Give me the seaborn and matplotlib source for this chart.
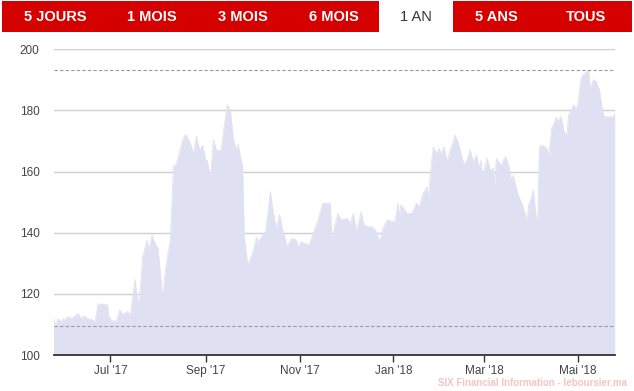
import matplotlib
matplotlib.use("Agg")
import matplotlib.pyplot as plt
import matplotlib.patches as mpatches
import pandas as pd
import seaborn as sns

# ---------------- data ----------------
dates = [
    "2017-05-25", "2017-05-26", "2017-05-28", "2017-05-30", "2017-05-31", "2017-06-02",
    "2017-06-03", "2017-06-06", "2017-06-10", "2017-06-12", "2017-06-14", "2017-06-16",
    "2017-06-19", "2017-06-21", "2017-06-23", "2017-06-29", "2017-06-30", "2017-07-02",
    "2017-07-05", "2017-07-07", "2017-07-09", "2017-07-12", "2017-07-14", "2017-07-17",
    "2017-07-19", "2017-07-20", "2017-07-22", "2017-07-25", "2017-07-26", "2017-07-28",
    "2017-07-30", "2017-08-01", "2017-08-04", "2017-08-05", "2017-08-07", "2017-08-09",
    "2017-08-11", "2017-08-13", "2017-08-17", "2017-08-19", "2017-08-22", "2017-08-24",
    "2017-08-26", "2017-08-28", "2017-08-30", "2017-09-01", "2017-09-02", "2017-09-04",
    "2017-09-06", "2017-09-08", "2017-09-11", "2017-09-13", "2017-09-15", "2017-09-17",
    "2017-09-19", "2017-09-21", "2017-09-22", "2017-09-24", "2017-09-25", "2017-09-26",
    "2017-09-28", "2017-09-29", "2017-10-02", "2017-10-04", "2017-10-05", "2017-10-08",
    "2017-10-10", "2017-10-13", "2017-10-15", "2017-10-17", "2017-10-19", "2017-10-21",
    "2017-10-24", "2017-10-27", "2017-10-30", "2017-10-31", "2017-11-02", "2017-11-05",
    "2017-11-07", "2017-11-10", "2017-11-13", "2017-11-16", "2017-11-21", "2017-11-22",
    "2017-11-24", "2017-11-26", "2017-11-28", "2017-12-02", "2017-12-04", "2017-12-06",
    "2017-12-08", "2017-12-11", "2017-12-13", "2017-12-15", "2017-12-18", "2017-12-21",
    "2017-12-23", "2017-12-25", "2017-12-28", "2017-12-31", "2018-01-02", "2018-01-04",
    "2018-01-05", "2018-01-06", "2018-01-10", "2018-01-13", "2018-01-16", "2018-01-18",
    "2018-01-20", "2018-01-23", "2018-01-24", "2018-01-25", "2018-01-27", "2018-01-29",
    "2018-01-31", "2018-02-01", "2018-02-03", "2018-02-05", "2018-02-07", "2018-02-09",
    "2018-02-10", "2018-02-12", "2018-02-14", "2018-02-16", "2018-02-18", "2018-02-20",
    "2018-02-22", "2018-02-24", "2018-02-26", "2018-02-27", "2018-02-28", "2018-03-03",
    "2018-03-05", "2018-03-07", "2018-03-08", "2018-03-09", "2018-03-12", "2018-03-15",
    "2018-03-17", "2018-03-19", "2018-03-20", "2018-03-22", "2018-03-24", "2018-03-26",
    "2018-03-29", "2018-03-30", "2018-04-01", "2018-04-02", "2018-04-04", "2018-04-05",
    "2018-04-06", "2018-04-08", "2018-04-11", "2018-04-12", "2018-04-14", "2018-04-16",
    "2018-04-17", "2018-04-18", "2018-04-20", "2018-04-22", "2018-04-24", "2018-04-25",
    "2018-04-27", "2018-04-28", "2018-04-30", "2018-05-01", "2018-05-03", "2018-05-04",
    "2018-05-07", "2018-05-08", "2018-05-09", "2018-05-11", "2018-05-13", "2018-05-15",
    "2018-05-17", "2018-05-18", "2018-05-24", "2018-05-25",
]
prices = [
    112.5, 109.7, 111.9, 110.8, 111.9, 111.5,
    112.5, 112.0, 113.6, 112.0, 112.8, 111.9,
    111.6, 110.9, 116.7, 116.4, 112.5, 111.2,
    111.0, 114.7, 113.3, 114.2, 113.0, 124.6,
    116.8, 118.5, 132.2, 137.6, 134.0, 139.3,
    136.5, 135.0, 118.0, 124.5, 132.0, 137.6,
    161.6, 162.6, 170.3, 172.2, 169.2, 166.0,
    171.5, 167.0, 168.6, 163.7, 163.6, 157.5,
    170.5, 166.9, 166.9, 174.7, 181.8, 180.2,
    170.3, 167.0, 169.0, 163.7, 161.5, 138.7,
    130.5, 130.0, 134.3, 138.6, 137.0, 139.3,
    140.4, 153.4, 146.3, 141.4, 145.8, 141.0,
    135.4, 138.2, 137.6, 135.4, 137.0, 136.4,
    135.9, 139.8, 144.2, 149.6, 149.6, 137.6,
    142.5, 146.3, 144.2, 144.7, 143.0, 146.3,
    140.4, 146.8, 142.5, 142.0, 141.9, 140.4,
    137.0, 141.0, 144.2, 143.7, 143.7, 149.6,
    145.8, 149.1, 146.3, 146.3, 149.6, 148.5,
    152.4, 155.1, 151.3, 159.0, 168.1, 165.9,
    167.6, 165.5, 168.1, 163.2, 167.0, 169.8,
    172.0, 169.8, 166.0, 162.1, 164.0, 167.0,
    163.2, 165.4, 161.0, 163.7, 158.5, 164.3,
    160.5, 161.0, 155.6, 164.3, 162.1, 164.9,
    162.1, 156.7, 158.8, 154.5, 151.3, 149.0,
    144.1, 149.0, 151.8, 154.0, 144.7, 145.2,
    168.1, 168.6, 167.6, 164.9, 174.1, 176.3,
    177.9, 176.3, 178.0, 173.1, 172.0, 178.5,
    180.1, 181.8, 180.7, 182.0, 190.0, 191.6,
    192.7, 193.0, 187.3, 190.0, 189.5, 186.8,
    180.0, 177.9, 177.9, 179.0,
]
year_high = 193.2
year_low = 109.5
y_ticks = [100, 120, 140, 160, 180, 200]
x_tick_dates = ["2017-07-01", "2017-09-01", "2017-11-01", "2018-01-01", "2018-03-01", "2018-05-01"]
x_tick_labels = ["Jul '17", "Sep '17", "Nov '17", "Jan '18", "Mar '18", "Mai '18"]
tabs = ["5 JOURS", "1 MOIS", "3 MOIS", "6 MOIS", "1 AN", "5 ANS", "TOUS"]
active_tab = "1 AN"
source_text = "SIX Financial Information - leboursier.ma"

df = pd.DataFrame({"date": pd.to_datetime(dates), "price": prices})

# ---------------- figure ----------------
sns.set_theme(style="white")
plt.rcParams["font.family"] = ["Liberation Sans", "DejaVu Sans"]

W, H = 634, 391
fig = plt.figure(figsize=(W / 100, H / 100), dpi=100)
fig.patch.set_facecolor("white")

# tab bar (pixel coordinate overlay)
tab_ax = fig.add_axes([0, 0, 1, 1])
tab_ax.set_xlim(0, W)
tab_ax.set_ylim(H, 0)
tab_ax.axis("off")
tab_ax.patch.set_alpha(0)
red = "#d50000"
tab_ax.add_patch(mpatches.Rectangle((2, 1), 377, 31, facecolor=red, edgecolor="none"))
tab_ax.add_patch(mpatches.Rectangle((453, 1), 179, 31, facecolor=red, edgecolor="none"))
tab_centers = [55, 152, 243, 334, 416, 496, 586]
for name, cx in zip(tabs, tab_centers):
    if name == active_tab:
        tab_ax.text(cx, 17, name, ha="center", va="center", fontsize=10.5,
                    color="#333333")
    else:
        tab_ax.text(cx, 17, name, ha="center", va="center", fontsize=10.5,
                    color="white", fontweight="bold")
tab_ax.text(532, 383.5, source_text, ha="center", va="center", fontsize=7,
            color="#f5c4c4", fontweight="bold")

# main chart
ax = fig.add_axes([53.5 / W, 1 - 355 / H, (614.7 - 53.5) / W, (355 - 49.3) / H])
ax.set_facecolor("none")
sns.lineplot(data=df, x="date", y="price", ax=ax, color="#e0e0f3", linewidth=0.6)
ax.fill_between(df["date"], df["price"], 100, color="#e0e0f3", linewidth=0, zorder=1)

ax.set_xlim(pd.Timestamp("2017-05-25"), pd.Timestamp("2018-05-25"))
ax.set_ylim(100, 200)
ax.set_yticks(y_ticks)
ax.set_yticklabels([str(v) for v in y_ticks])
ax.set_xticks(pd.to_datetime(x_tick_dates))
ax.set_xticklabels(x_tick_labels)
ax.set_xlabel("")
ax.set_ylabel("")

for v in y_ticks[1:]:
    ax.axhline(v, color="#d0d0d0", linewidth=1, zorder=0.5)
ax.axhline(year_high, color="#999999", linewidth=0.8, linestyle=(0, (3, 2)), zorder=3)
ax.axhline(year_low, color="#999999", linewidth=0.8, linestyle=(0, (3, 2)), zorder=3)

for s in ["top", "right", "left"]:
    ax.spines[s].set_visible(False)
ax.spines["bottom"].set_color("#333333")
ax.spines["bottom"].set_linewidth(1.3)
ax.spines["bottom"].set_zorder(4)

ax.tick_params(axis="y", length=0, pad=10, labelsize=8.5, labelcolor="#444444")
ax.tick_params(axis="x", length=5, width=1, color="#333333", direction="out",
               pad=2.5, labelsize=8.5, labelcolor="#444444", bottom=True)

fig.savefig("out.png", dpi=100, facecolor="white")
